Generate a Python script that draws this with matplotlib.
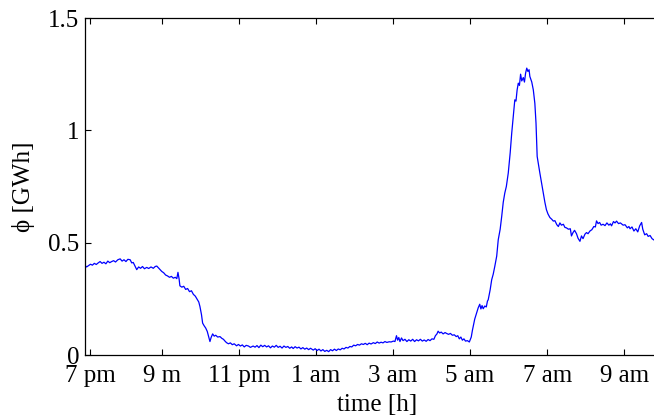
import matplotlib
matplotlib.use("Agg")
import matplotlib.pyplot as plt

# hours after 7 pm
hours = [0.00, 0.05, 0.10, 0.15, 0.20, 0.25, 0.30, 0.35, 0.40, 0.45,
         0.50, 0.55, 0.60, 0.65, 0.70, 0.75, 0.80, 0.86, 0.92, 0.97,
         1.02, 1.07, 1.12, 1.18, 1.22, 1.26, 1.30, 1.35, 1.40, 1.45,
         1.50, 1.55, 1.61, 1.66, 1.72, 1.78, 1.83, 1.87, 1.93, 2.00,
         2.05, 2.10, 2.15, 2.20, 2.25, 2.30, 2.35, 2.39, 2.42, 2.45,
         2.47, 2.52, 2.57, 2.62, 2.67, 2.72, 2.77, 2.82, 2.87, 2.92,
         2.96, 2.99, 3.03, 3.06, 3.10, 3.14, 3.18, 3.22, 3.25, 3.28,
         3.32, 3.36, 3.40, 3.45, 3.51, 3.56, 3.60, 3.64, 3.68, 3.73,
         3.78, 3.83, 3.88, 3.94, 3.99, 4.04, 4.09, 4.14, 4.19, 4.25,
         4.30, 4.37, 4.42, 4.47, 4.52, 4.57, 4.62, 4.67, 4.72, 4.77,
         4.82, 4.87, 4.92, 4.97, 5.02, 5.07, 5.12, 5.17, 5.22, 5.27,
         5.32, 5.37, 5.41, 5.46, 5.51, 5.56, 5.61, 5.66, 5.71, 5.76,
         5.81, 5.86, 5.93, 5.98, 6.03, 6.08, 6.13, 6.18, 6.23, 6.28,
         6.33, 6.38, 6.43, 6.48, 6.53, 6.58, 6.63, 6.68, 6.73, 6.78,
         6.83, 6.88, 6.93, 6.98, 7.03, 7.08, 7.13, 7.18, 7.23, 7.28,
         7.33, 7.38, 7.43, 7.49, 7.54, 7.59, 7.64, 7.69, 7.74, 7.79,
         7.84, 7.90, 7.95, 8.01, 8.05, 8.09, 8.12, 8.15, 8.18, 8.22,
         8.26, 8.31, 8.36, 8.41, 8.46, 8.51, 8.56, 8.61, 8.66, 8.71,
         8.76, 8.81, 8.86, 8.91, 8.96, 9.01, 9.06, 9.10, 9.14, 9.17,
         9.21, 9.25, 9.30, 9.35, 9.39, 9.44, 9.49, 9.54, 9.59, 9.64,
         9.68, 9.72, 9.76, 9.80, 9.84, 9.88, 9.93, 9.98, 10.03, 10.06,
         10.08, 10.12, 10.17, 10.21, 10.25, 10.28, 10.31, 10.34, 10.38, 10.42,
         10.45, 10.47, 10.52, 10.56, 10.60, 10.64, 10.69, 10.73, 10.78, 10.82,
         10.86, 10.90, 10.94, 10.99, 11.04, 11.08, 11.12, 11.16, 11.19, 11.22,
         11.25, 11.28, 11.31, 11.34, 11.38, 11.41, 11.44, 11.47, 11.50, 11.53,
         11.55, 11.60, 11.64, 11.68, 11.71, 11.74, 11.78, 11.81, 11.86, 11.90,
         11.94, 11.98, 12.02, 12.07, 12.12, 12.16, 12.20, 12.25, 12.29, 12.33,
         12.37, 12.42, 12.46, 12.50, 12.55, 12.60, 12.63, 12.67, 12.71, 12.76,
         12.80, 12.85, 12.89, 12.93, 12.98, 13.02, 13.06, 13.11, 13.16, 13.21,
         13.25, 13.28, 13.32, 13.36, 13.40, 13.45, 13.50, 13.55, 13.60, 13.64,
         13.67, 13.72, 13.76, 13.80, 13.85, 13.90, 13.97, 14.02, 14.08, 14.12,
         14.15, 14.20, 14.25, 14.30, 14.35, 14.40, 14.45, 14.48, 14.53, 14.58,
         14.62, 14.67, 14.72, 14.77, 14.85]

# phi in GWh
phi = [0.400, 0.392, 0.398, 0.404, 0.400, 0.408, 0.403, 0.410, 0.416, 0.408,
       0.413, 0.406, 0.418, 0.411, 0.416, 0.420, 0.414, 0.424, 0.428, 0.418,
       0.424, 0.416, 0.426, 0.424, 0.410, 0.412, 0.398, 0.380, 0.392, 0.386,
       0.394, 0.384, 0.390, 0.385, 0.392, 0.386, 0.394, 0.396, 0.385, 0.372,
       0.366, 0.356, 0.352, 0.346, 0.350, 0.342, 0.346, 0.340, 0.368, 0.338,
       0.308, 0.302, 0.306, 0.292, 0.296, 0.282, 0.286, 0.270, 0.262, 0.248,
       0.236, 0.216, 0.180, 0.142, 0.130, 0.120, 0.105, 0.080, 0.060, 0.078,
       0.094, 0.084, 0.088, 0.080, 0.082, 0.074, 0.070, 0.062, 0.055, 0.050,
       0.054, 0.046, 0.050, 0.041, 0.047, 0.040, 0.045, 0.036, 0.043, 0.040,
       0.034, 0.040, 0.035, 0.042, 0.033, 0.044, 0.037, 0.043, 0.036, 0.041,
       0.032, 0.040, 0.035, 0.043, 0.034, 0.039, 0.031, 0.040, 0.034, 0.038,
       0.030, 0.036, 0.029, 0.037, 0.031, 0.035, 0.027, 0.033, 0.026, 0.031,
       0.024, 0.030, 0.022, 0.028, 0.020, 0.026, 0.018, 0.024, 0.016, 0.021,
       0.015, 0.024, 0.019, 0.026, 0.020, 0.027, 0.023, 0.030, 0.027, 0.034,
       0.031, 0.038, 0.036, 0.044, 0.041, 0.047, 0.044, 0.050, 0.047, 0.052,
       0.046, 0.053, 0.049, 0.055, 0.051, 0.058, 0.053, 0.057, 0.054, 0.060,
       0.056, 0.059, 0.058, 0.062, 0.060, 0.086, 0.066, 0.078, 0.060, 0.076,
       0.064, 0.070, 0.060, 0.068, 0.062, 0.070, 0.060, 0.068, 0.063, 0.070,
       0.062, 0.067, 0.061, 0.069, 0.064, 0.072, 0.070, 0.086, 0.094, 0.106,
       0.098, 0.102, 0.094, 0.100, 0.096, 0.092, 0.096, 0.088, 0.090, 0.082,
       0.086, 0.072, 0.080, 0.066, 0.072, 0.062, 0.064, 0.058, 0.080, 0.110,
       0.127, 0.160, 0.187, 0.210, 0.226, 0.205, 0.220, 0.206, 0.218, 0.214,
       0.240, 0.246, 0.290, 0.335, 0.360, 0.394, 0.440, 0.513, 0.560, 0.617,
       0.680, 0.721, 0.750, 0.810, 0.900, 0.988, 1.060, 1.136, 1.130, 1.180,
       1.210, 1.200, 1.250, 1.220, 1.235, 1.215, 1.255, 1.277, 1.262, 1.270,
       1.240, 1.215, 1.180, 1.120, 1.032, 0.884, 0.840, 0.810, 0.760, 0.721,
       0.680, 0.647, 0.628, 0.612, 0.604, 0.596, 0.598, 0.580, 0.572, 0.588,
       0.578, 0.582, 0.568, 0.566, 0.560, 0.562, 0.530, 0.545, 0.555, 0.540,
       0.520, 0.506, 0.530, 0.518, 0.538, 0.545, 0.540, 0.552, 0.558, 0.572,
       0.570, 0.597, 0.585, 0.590, 0.578, 0.582, 0.576, 0.588, 0.578, 0.584,
       0.575, 0.594, 0.588, 0.596, 0.585, 0.588, 0.578, 0.580, 0.566, 0.572,
       0.562, 0.570, 0.552, 0.562, 0.548, 0.575, 0.590, 0.560, 0.535, 0.540,
       0.528, 0.532, 0.518, 0.512, 0.510]

tick_hours = [0.145, 2, 4, 6, 8, 10, 12, 14]
tick_labels = ['7 pm', '9 m', '11 pm', '1 am', '3 am', '5 am', '7 am', '9 am']
y_ticks = [0, 0.5, 1, 1.5]
y_labels = ['0', '0.5', '1', '1.5']

plt.rcParams['font.family'] = ['Liberation Serif', 'DejaVu Serif']
plt.rcParams['font.size'] = 18

fig = plt.figure(figsize=(6.54, 4.19), dpi=100)
# the right side of the box lies past the canvas, as in the cropped original
ax = fig.add_axes([0.1295, 0.1527, 0.8934, 0.8043])

ax.plot(hours, phi, color='blue', linewidth=0.9)

ax.set_xlim(0, 15.16)
ax.set_ylim(0, 1.5)
ax.set_xticks(tick_hours)
ax.set_xticklabels(tick_labels)
ax.set_yticks(y_ticks)
ax.set_yticklabels(y_labels)

ax.tick_params(direction='in', length=4, width=0.8, top=True, right=False)
ax.tick_params(axis='x', pad=7)
ax.tick_params(axis='y', pad=4)
for s in ax.spines.values():
    s.set_linewidth(0.9)

ax.set_xlabel('time [h]', labelpad=5)
ax.set_ylabel('\u03d5 [GWh]', labelpad=9)

fig.savefig('out.png', dpi=100)
